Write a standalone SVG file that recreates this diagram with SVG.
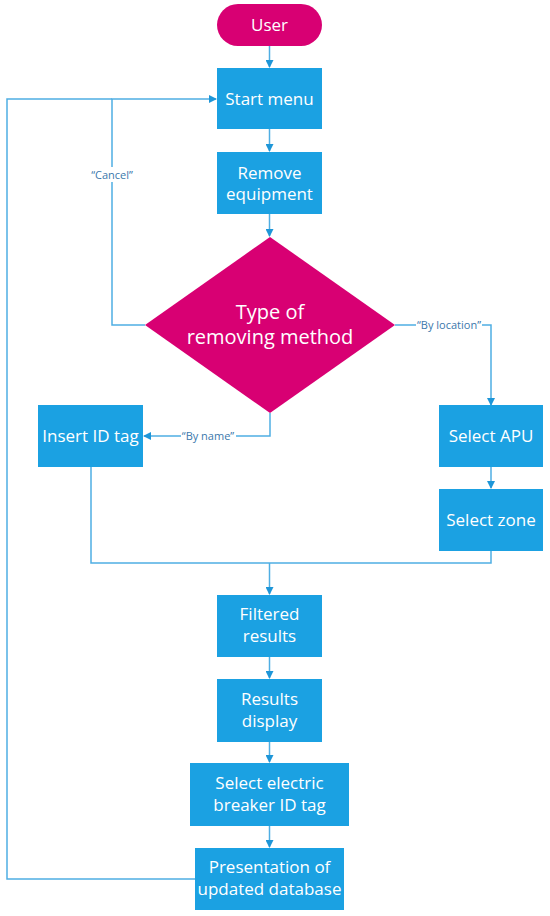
<svg xmlns="http://www.w3.org/2000/svg" width="550" height="916" viewBox="0 0 550 916">
<defs>
<marker id="ah" markerWidth="8" markerHeight="8" refX="7" refY="4" orient="auto" markerUnits="userSpaceOnUse">
<path d="M0,0 L8,4 L0,8 Z" fill="#1E96D8"/>
</marker>
<style>
.box{fill:#1BA1E2}
.mag{fill:#D80073}
.t{font-family:"Open Sans","Noto Sans",sans-serif;font-size:17px;fill:#ffffff;text-anchor:middle}
.dt{font-family:"Open Sans","Noto Sans",sans-serif;font-size:20px;fill:#ffffff;text-anchor:middle}
.ln{fill:none;stroke:#4FAEE3;stroke-width:1.5}
.lb{font-family:"Open Sans","Noto Sans",sans-serif;font-size:11px;fill:#3B78AC;text-anchor:middle}
.bg{fill:#ffffff}
</style>
</defs>
<rect width="550" height="916" fill="#ffffff"/>
<g id="connectors">
<path class="ln" d="M269.5,46 V67" marker-end="url(#ah)"/>
<path class="ln" d="M269.5,129 V151" marker-end="url(#ah)"/>
<path class="ln" d="M269.5,214 V236" marker-end="url(#ah)"/>
<path class="ln" d="M145,325 H112 V99 H216" marker-end="url(#ah)"/>
<path class="ln" d="M195,879 H7 V99 H112"/>
<path class="ln" d="M395,325 H491 V405" marker-end="url(#ah)"/>
<path class="ln" d="M270,413 V436 H144" marker-end="url(#ah)"/>
<path class="ln" d="M491,467 V488" marker-end="url(#ah)"/>
<path class="ln" d="M91,467 V563 H491 V551"/>
<path class="ln" d="M269.5,563 V594" marker-end="url(#ah)"/>
<path class="ln" d="M269.5,657 V678" marker-end="url(#ah)"/>
<path class="ln" d="M269.5,742 V762" marker-end="url(#ah)"/>
<path class="ln" d="M269.5,826 V847" marker-end="url(#ah)"/>
<rect class="bg" x="88" y="167" width="48" height="15"/>
<text class="lb" x="112" y="179">“Cancel”</text>
<rect class="bg" x="416" y="318" width="66" height="15"/>
<text class="lb" x="449" y="329">“By location”</text>
<rect class="bg" x="181" y="429" width="55" height="15"/>
<text class="lb" x="208" y="440">“By name”</text>
</g>
<g id="user">
<rect class="mag" x="217" y="4" width="105" height="42" rx="21" ry="21"/>
<text class="t" x="269.5" y="31">User</text>
</g>
<g id="start-menu">
<rect class="box" x="217" y="68" width="105" height="61"/>
<text class="t" x="269.5" y="105">Start menu</text>
</g>
<g id="remove-equipment">
<rect class="box" x="217" y="152" width="105" height="62"/>
<text class="t" x="269.5" y="178.5">Remove</text>
<text class="t" x="269.5" y="199.5">equipment</text>
</g>
<g id="type-of-removing-method">
<polygon class="mag" points="270,237 395,325 270,413 145,325"/>
<text class="dt" x="270" y="319">Type of</text>
<text class="dt" x="270" y="344">removing method</text>
</g>
<g id="insert-id-tag">
<rect class="box" x="38" y="405" width="105" height="62"/>
<text class="t" x="90.5" y="442">Insert ID tag</text>
</g>
<g id="select-apu">
<rect class="box" x="439" y="405" width="104" height="62"/>
<text class="t" x="491" y="442">Select APU</text>
</g>
<g id="select-zone">
<rect class="box" x="439" y="489" width="104" height="62"/>
<text class="t" x="491" y="526">Select zone</text>
</g>
<g id="filtered-results">
<rect class="box" x="217" y="595" width="105" height="62"/>
<text class="t" x="269.5" y="620">Filtered</text>
<text class="t" x="269.5" y="642">results</text>
</g>
<g id="results-display">
<rect class="box" x="217" y="679" width="105" height="63"/>
<text class="t" x="269.5" y="705">Results</text>
<text class="t" x="269.5" y="727">display</text>
</g>
<g id="select-electric-breaker">
<rect class="box" x="190" y="763" width="159" height="63"/>
<text class="t" x="269.5" y="789">Select electric</text>
<text class="t" x="269.5" y="811">breaker ID tag</text>
</g>
<g id="presentation">
<rect class="box" x="195" y="848" width="149" height="62"/>
<text class="t" x="269.5" y="873">Presentation of</text>
<text class="t" x="269.5" y="895">updated database</text>
</g>
</svg>
